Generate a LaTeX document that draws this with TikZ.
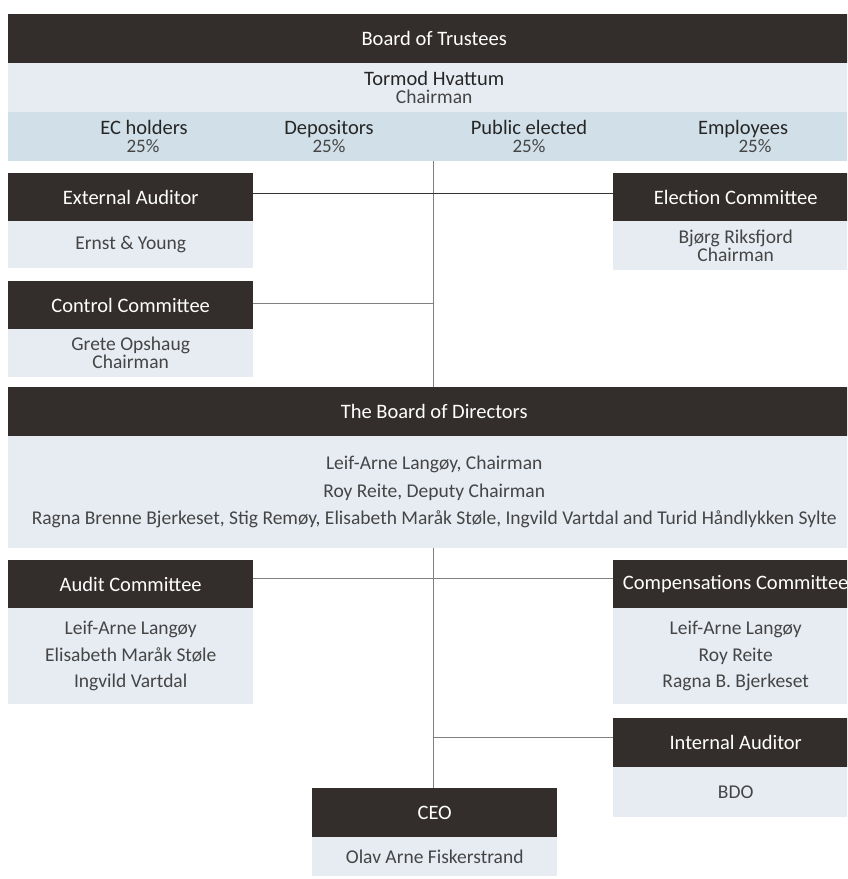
\documentclass[tikz,border=0pt]{standalone}
\usepackage{fontspec}
\setmainfont{Carlito}
\definecolor{hdrbg}{HTML}{332E2B}
\definecolor{lightbg}{HTML}{E7ECF3}
\definecolor{bluebg}{HTML}{D1DFE8}
\definecolor{txt}{HTML}{454545}
\definecolor{txtdark}{HTML}{262626}
\definecolor{ln}{HTML}{808080}
\begin{document}
\begin{tikzpicture}[x=1pt,y=-1pt,
  hdr/.style={fill=hdrbg, text=white, anchor=north west, inner sep=0pt, minimum width=245pt, minimum height=48pt, font=\fontsize{20.5}{22}\selectfont},
  bodybox/.style={fill=lightbg, text=txt, anchor=north west, inner sep=0pt, minimum width=245pt, align=center, font=\fontsize{19.5}{18}\selectfont},
  wide/.style={minimum width=852pt},
  grp/.style={text=txtdark, inner sep=0pt, anchor=base, font=\fontsize{20.5}{22}\selectfont},
  pct/.style={text=txt, inner sep=0pt, anchor=base, font=\fontsize{19}{22}\selectfont},
  conn/.style={draw=ln, line width=1pt}]
\useasboundingbox (0,0) rectangle (847,879);
\clip (0,0) rectangle (847,879);
\fill[white] (0,0) rectangle (847,879);

% Board of Trustees
\node[hdr, wide, minimum height=49pt] (bot) at (8,14) {Board of Trustees};
\node[bodybox, wide, minimum height=49pt] (chair) at (8,63) {\textcolor{txtdark}{\fontsize{20.5}{18}\selectfont Tormod Hvattum}\\Chairman};
\node[fill=bluebg, anchor=north west, inner sep=0pt, wide, minimum height=49pt] (groups) at (8,112) {};
\node[grp] (g1) at (144,134) {EC holders};
\node[pct] (g1p) at (143,152) {25\%};
\node[grp] (g2) at (329,134) {Depositors};
\node[pct] (g2p) at (329,152) {25\%};
\node[grp] (g3) at (529,134) {Public elected};
\node[pct] (g3p) at (529,152) {25\%};
\node[grp] (g4) at (743,134) {Employees};
\node[pct] (g4p) at (755,152) {25\%};

% spine coordinate
\coordinate (sx) at (433,0);

% External Auditor / Election Committee
\node[hdr] (ea) at (8,173) {External Auditor};
\node[bodybox, minimum height=47pt] (eab) at (8,221) {Ernst \& Young};
\node[hdr] (ec) at (613,173) {Election Committee};
\node[bodybox, minimum height=49pt] (ecb) at (613,221) {Bjørg Riksfjord\\Chairman};

% Control Committee
\node[hdr] (cc) at (8,281) {Control Committee};
\node[bodybox, minimum height=48pt] (ccb) at (8,329) {Grete Opshaug\\Chairman};

% Board of Directors
\node[hdr, wide, minimum height=49pt] (bod) at (8,387) {The Board of Directors};
\node[bodybox, wide, minimum height=112pt, font=\fontsize{19.5}{27.5}\selectfont] (bodb) at (8,436) {Leif-Arne Langøy, Chairman\\Roy Reite, Deputy Chairman\\Ragna Brenne Bjerkeset, Stig Remøy, Elisabeth Maråk Støle, Ingvild Vartdal and Turid Håndlykken Sylte};

% Audit / Compensations
\node[hdr] (ac) at (8,560) {Audit Committee};
\node[bodybox, minimum height=96pt, font=\fontsize{19.5}{26.5}\selectfont] (acb) at (8,608) {Leif-Arne Langøy\\Elisabeth Maråk Støle\\Ingvild Vartdal};
\node[hdr] (cmc) at (613,560) {Compensations Committee};
\node[bodybox, minimum height=96pt, font=\fontsize{19.5}{26.5}\selectfont] (cmcb) at (613,608) {Leif-Arne Langøy\\Roy Reite\\Ragna B. Bjerkeset};

% Internal Auditor
\node[hdr, minimum height=49pt] (ia) at (613,718) {Internal Auditor};
\node[bodybox, minimum height=50pt] (iab) at (613,767) {BDO};

% CEO
\node[hdr, minimum height=49pt] (ceo) at (312,788) {CEO};
\node[bodybox, minimum height=39pt] (ceob) at (312,837) {Olav Arne Fiskerstrand};

% connectors
\draw[conn] (groups.south -| sx) -- (bod.north -| sx);
\draw[conn] (bodb.south -| sx) -- (ceo.north -| sx);
\draw[conn, draw=black!80] ([yshift=4pt]ea.east) -- ([yshift=4pt]ec.west);
\draw[conn] ([yshift=2pt]cc.east) -- ([yshift=2pt]cc.east -| sx);
\draw[conn] ([yshift=6pt]ac.east) -- ([yshift=6pt]cmc.west);
\draw[conn] ([yshift=5pt]ia.west) -- ([yshift=5pt]ia.west -| sx);
\end{tikzpicture}
\end{document}
